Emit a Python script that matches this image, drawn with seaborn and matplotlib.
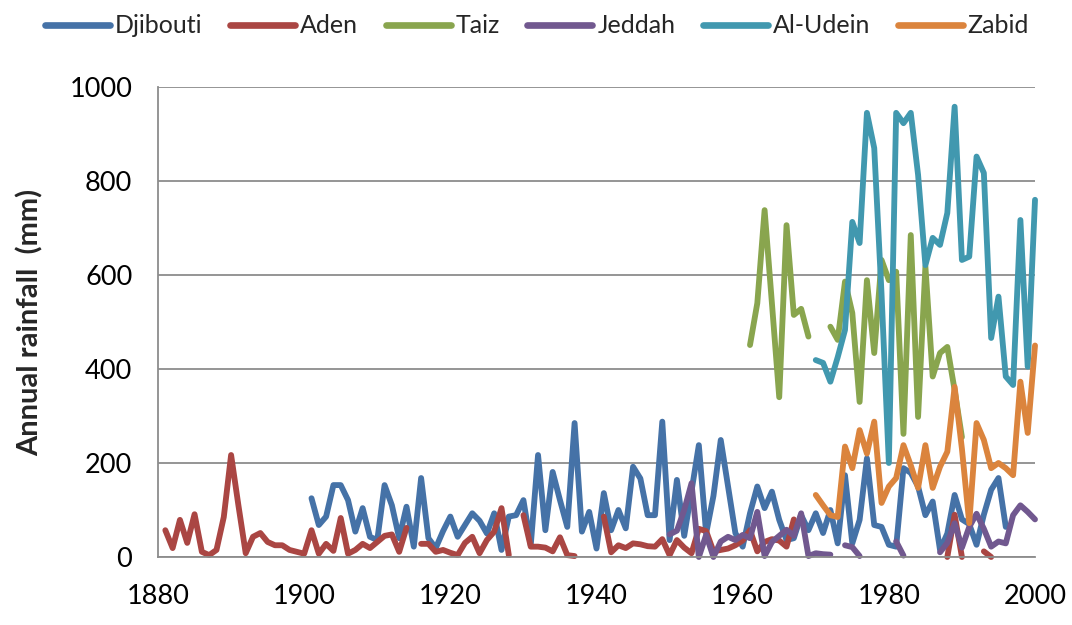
import numpy as np
import pandas as pd
import matplotlib
matplotlib.use("Agg")
import matplotlib.pyplot as plt
import seaborn as sns

# Annual rainfall (mm), None = missing year
stations = ["Djibouti", "Aden", "Taiz", "Jeddah", "Al-Udein", "Zabid"]
colors = ["#4572A7", "#AA4643", "#89A54E", "#71588F", "#4198AF", "#DB843D"]

djibouti_start = 1901
djibouti = [
    125, 68, 86, 153, 153, 121, 54, 104, 43, 36,        # 1901-1910
    153, 110, 40, 107, 22, 168, 40, 19, 55, 86,         # 1911-1920
    43, 68, 93, 77, 50, 93, 15, 86, 89, 121,            # 1921-1930
    25, 217, 57, 181, 121, 64, 285, 54, 96, 18,         # 1931-1940
    136, 57, 100, 61, 192, 167, 89, 89, 288, 36,        # 1941-1950
    164, 45, 140, 238, 50, 130, 249, 150, 51, 22,       # 1951-1960
    93, 150, 104, 139, 79, 36, 40, 89, 57, 93,          # 1961-1970
    51, 100, 29, 174, 29, 79, 210, 68, 64, 26,          # 1971-1980
    22, 189, 179, 150, 89, 118, 15, 50, 132, 80,        # 1981-1990
    70, 26, 90, 143, 168, 64,                           # 1991-1996
]

aden_start = 1881
aden = [
    57, 19, 79, 30, 91, 11, 4, 15, 85, 217,             # 1881-1890
    110, 8, 43, 51, 32, 25, 25, 15, 11, 7,              # 1891-1900
    57, 7, 28, 13, 83, 7, 15, 28, 19, 32,               # 1901-1910
    45, 48, 11, 62, None, 28, 28, 11, 15, 9,            # 1911-1920
    4, 30, 43, 8, 36, 54, 104, 4, None, 89,             # 1921-1930
    22, 22, 20, 12, 42, 4, 2, None, None, None,         # 1931-1940
    86, 10, 25, 19, 29, 27, 23, 22, 38, 4,              # 1941-1950
    36, 20, 8, 60, 55, 12, 15, 18, 25, 35,              # 1951-1960
    57, 12, 32, 38, 35, 22, 80, None, None, None,       # 1961-1970
    None, None, None, None, None, None, None, None, None, None,  # 1971-1980
    None, None, None, None, None, None, None, 0, 90, 0,  # 1981-1990
    None, None, 12, 0,                                  # 1991-1994
]

taiz_start = 1961
taiz = [
    451, 540, 738, 540, 340, 706, 515, 528, 469, None,  # 1961-1970
    None, 490, 462, 586, 519, 330, 589, 434, 632, 589,  # 1971-1980
    607, 262, 685, 298, 618, 384, 434, 447, 355, 255,   # 1981-1990
]

jeddah_start = 1950
jeddah = [
    48,                                                 # 1950
    56, 100, 157, 0, 47, 0, 33, 43, 36, 47,             # 1951-1960
    40, 96, 2, 32, 45, 58, 45, 93, 2, 8,                # 1961-1970
    6, 5, None, 25, 21, 2, None, None, None, None,      # 1971-1980
    33, 3, None, None, None, None, 10, 30, 72, 20,      # 1981-1990
    64, 92, 60, 22, 33, 29, 89, 110, 96, 80,            # 1991-2000
]

aludein_start = 1970
aludein = [
    419,                                                # 1970
    413, 373, 425, 483, 713, 668, 945, 870, 560, 200,   # 1971-1980
    945, 923, 945, 813, 621, 679, 664, 732, 958, 632,   # 1981-1990
    639, 852, 817, 466, 554, 384, 366, 717, 405, 760,   # 1991-2000
]

zabid_start = 1970
zabid = [
    132,                                                # 1970
    110, 89, 85, 235, 189, 270, 220, 288, 115, 150,     # 1971-1980
    168, 238, 195, 147, 238, 147, 192, 224, 362, 230,   # 1981-1990
    72, 285, 249, 189, 200, 189, 174, 373, 264, 450,    # 1991-2000
]

series = {
    "Djibouti": (djibouti_start, djibouti),
    "Aden": (aden_start, aden),
    "Taiz": (taiz_start, taiz),
    "Jeddah": (jeddah_start, jeddah),
    "Al-Udein": (aludein_start, aludein),
    "Zabid": (zabid_start, zabid),
}

# long table, each unbroken run of years gets its own segment id
rows = []
seg = 0
for name in stations:
    start, vals = series[name]
    prev = None
    for i, v in enumerate(vals):
        if v is None:
            prev = None
            continue
        if prev is None:
            seg += 1
        rows.append((start + i, v, name, seg))
        prev = v
df = pd.DataFrame(rows, columns=["year", "rain", "station", "seg"])

sns.set_style("white")
plt.rcParams["font.family"] = ["Lato", "DejaVu Sans"]

fig = plt.figure(figsize=(10.72, 6.25), dpi=100)
ax = fig.add_axes([0.1474, 0.1088, 0.8181, 0.752])

grid_col = "#8c8c8c"
ax.set_axisbelow(True)
ax.yaxis.grid(True, color=grid_col, lw=1.3)

sns.lineplot(data=df, x="year", y="rain", hue="station", units="seg",
             estimator=None, hue_order=stations, palette=colors,
             lw=4.2, ax=ax, sort=True)
for ln in ax.lines:
    ln.set_solid_joinstyle("round")
    ln.set_solid_capstyle("round")
    ln.set_clip_on(False)

ax.set_xlim(1880, 2000)
ax.set_ylim(0, 1000)
ax.set_xticks(range(1880, 2001, 20))
ax.set_yticks(range(0, 1001, 200))
ax.tick_params(axis="both", labelsize=19.5, colors=grid_col, labelcolor="black",
               direction="out", length=4.5, width=1.3)
ax.tick_params(axis="y", pad=14)
ax.tick_params(axis="x", pad=15)
for s in ["top", "right"]:
    ax.spines[s].set_visible(False)
for s in ["left", "bottom"]:
    ax.spines[s].set_color(grid_col)
    ax.spines[s].set_linewidth(1.3)

ax.set_xlabel("")
ax.set_ylabel("Annual rainfall  (mm)", fontsize=21, fontweight="bold")
ax.yaxis.set_label_coords(-0.131, 0.5)

sns.move_legend(ax, "upper center", bbox_to_anchor=(0.501, 0.993),
                bbox_transform=fig.transFigure, ncol=6, frameon=False,
                title=None, fontsize=18, handlelength=2.6, handletextpad=0.2,
                columnspacing=1.1, borderaxespad=0)
for h in ax.get_legend().get_lines():
    h.set_linewidth(4.8)

fig.savefig("out.png", dpi=100)
